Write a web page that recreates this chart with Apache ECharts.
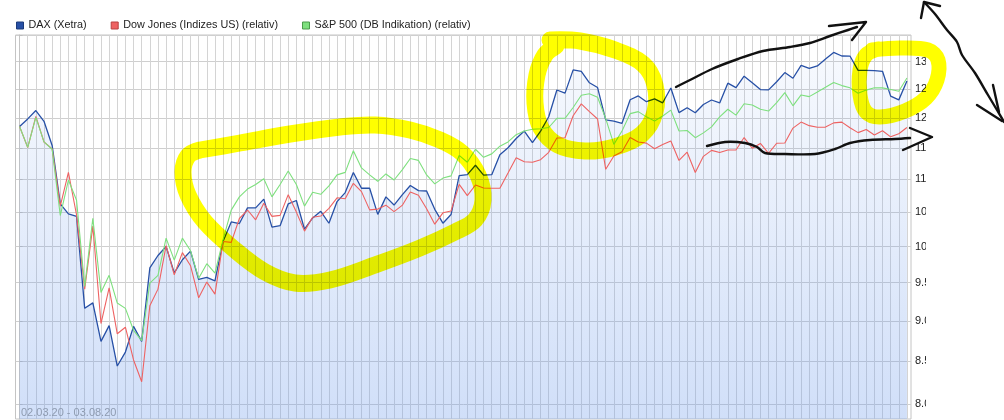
<!DOCTYPE html>
<html><head><meta charset="utf-8">
<script src="https://cdn.jsdelivr.net/npm/echarts@6/dist/echarts.min.js"></script>
<style>html,body{margin:0;padding:0;background:#fff}#c{width:1004px;height:420px}</style>
</head><body><div id="c"></div>
<script>
const dates = [
'02.03.20','03.03.20','04.03.20','05.03.20','06.03.20','09.03.20','10.03.20','11.03.20','12.03.20','13.03.20','16.03.20','17.03.20','18.03.20','19.03.20','20.03.20','23.03.20','24.03.20','25.03.20','26.03.20','27.03.20','30.03.20','31.03.20',
'01.04.20','02.04.20','03.04.20','06.04.20','07.04.20','08.04.20','09.04.20','13.04.20','14.04.20','15.04.20','16.04.20','17.04.20','20.04.20','21.04.20','22.04.20','23.04.20','24.04.20','27.04.20','28.04.20','29.04.20','30.04.20',
'01.05.20','04.05.20','05.05.20','06.05.20','07.05.20','08.05.20','11.05.20','12.05.20','13.05.20','14.05.20','15.05.20','18.05.20','19.05.20','20.05.20','21.05.20','22.05.20','25.05.20','26.05.20','27.05.20','28.05.20','29.05.20',
'01.06.20','02.06.20','03.06.20','04.06.20','05.06.20','08.06.20','09.06.20','10.06.20','11.06.20','12.06.20','15.06.20','16.06.20','17.06.20','18.06.20','19.06.20','22.06.20','23.06.20','24.06.20','25.06.20','26.06.20','29.06.20','30.06.20',
'01.07.20','02.07.20','03.07.20','06.07.20','07.07.20','08.07.20','09.07.20','10.07.20','13.07.20','14.07.20','15.07.20','16.07.20','17.07.20','20.07.20','21.07.20','22.07.20','23.07.20','24.07.20','27.07.20','28.07.20','29.07.20','30.07.20','31.07.20',
'03.08.20'];

const dax = [
11857,11985,12128,11944,11542,10625,10475,10439,9161,9232,8742,8939,8441,8610,8929,8742,9701,9874,10000,9633,9815,9936,
9544,9571,9525,10075,10356,10332,10564,10564,10696,10279,10301,10625,10675,10249,10415,10513,10336,10659,10796,11107,10862,
10862,10467,10730,10606,10760,10904,10825,10820,10542,10337,10465,11058,11075,11223,11066,11074,11391,11505,11657,11781,11587,
11780,12021,12487,12431,12848,12820,12615,12530,11970,11949,11911,12315,12382,12281,12331,12262,12523,12093,12177,12089,12233,12311,
12260,12608,12528,12733,12616,12494,12489,12633,12799,12697,12930,12874,12920,13046,13171,13104,13103,12838,12839,12836,12822,12379,12313,
12647];

const dow = [
11857,11508,12029,11599,11485,10591,11109,10458,9413,10295,8965,9430,8836,8919,8514,8255,9194,9414,10014,9608,9914,9732,
9299,9508,9348,10071,10059,10406,10532,10386,10634,10437,10452,10764,10501,10221,10424,10442,10557,10716,10702,10938,10810,
10534,10546,10605,10508,10601,10804,10755,10552,10323,10490,10517,10922,10749,10913,10867,10863,10863,11099,11344,11279,11271,
11312,11430,11665,11670,12038,12243,12110,11984,11158,11370,11440,11674,11598,11580,11488,11556,11614,11299,11432,11108,11365,11462,
11427,11468,11468,11672,11496,11575,11414,11578,11583,11830,11931,11871,11843,11847,11918,11931,11835,11754,11805,11714,11785,11684,11735,
11840];

const spx = [
11857,11510,12010,11600,11480,10450,10990,10680,9450,10410,9370,9600,9230,9160,8880,8750,9495,9600,10120,9810,10120,9940,
9560,9760,9630,10100,10530,10730,10850,10920,11010,10730,10920,11130,10920,10590,10800,10770,10900,11070,11110,11455,11180,
11070,10970,11085,10990,11150,11330,11300,11070,10930,11020,11055,11380,11270,11480,11350,11405,11530,11600,11720,11780,11810,
11820,11840,11995,11995,12180,12395,12420,12360,11990,11560,11780,12075,12110,12020,11950,12035,12135,11780,11790,11670,11750,11850,
12020,12150,12050,12245,12225,12150,12120,12265,12440,12210,12400,12370,12450,12535,12620,12565,12525,12430,12485,12525,12525,12495,12465,
12700];

const seriesNames = ['DAX (Xetra)', 'Dow Jones (Indizes US) (relativ)', 'S&P 500 (DB Indikation) (relativ)'];
const yTicks = [8000, 8500, 9000, 9500, 10000, 10500, 11000, 11500, 12000, 12500, 13000];
const yTickLabels = ['8.000', '8.500', '9.000', '9.500', '10.000', '10.500', '11.000', '11.500', '12.000', '12.500', '13.000'];
const yMin = 7830, yMax = 13500;
const periodText = '02.03.20 - 03.08.20';

const FONT = '"Liberation Sans", Arial, sans-serif';
const colors = ['#2750a6', '#ee6262', '#7ee07e'];
const lnTicks = yTicks.map(Math.log);
const dayIndex = dates.map((d, i) => i);

const chart = echarts.init(document.getElementById('c'), null, {renderer: 'canvas'});

function ypoly(points, w) {
  return {type: 'polyline', z: 60, silent: true,
    shape: {points: points, smooth: 0.35},
    style: {stroke: '#ffff00', lineWidth: w, fill: null, lineCap: 'round', lineJoin: 'round', blend: 'multiply'}};
}
function bpoly(points, smooth) {
  return {type: 'polyline', z: 70, silent: true,
    shape: {points: points, smooth: smooth || 0},
    style: {stroke: '#111', lineWidth: 2.4, fill: null, lineCap: 'round', lineJoin: 'round'}};
}

chart.setOption({
  backgroundColor: '#fff',
  animation: false,
  textStyle: {fontFamily: FONT},
  legend: {
    left: 16, top: 20, padding: 0, itemWidth: 7, itemHeight: 7, itemGap: 24,
    textStyle: {fontSize: 10.8, color: '#222', fontFamily: FONT},
    data: seriesNames.map((n, i) => ({name: n, icon: 'rect',
      itemStyle: {color: colors[i], borderColor: ['#1c3a7a', '#b84040', '#4a9a4a'][i], borderWidth: 1}}))
  },
  grid: {left: 15.5, right: 93, top: 35, bottom: 1, show: true, borderColor: '#c4c4c4', borderWidth: 1, backgroundColor: 'transparent', outerBoundsMode: 'none'},
  xAxis: [{
    type: 'category', data: dates, boundaryGap: true,
    axisLine: {show: false}, axisTick: {show: false}, axisLabel: {show: false}, splitLine: {show: false}
  }, {
    type: 'value', min: -0.5, max: dates.length - 0.5, position: 'bottom',
    axisLine: {show: false}, axisLabel: {show: false},
    axisTick: {show: false, customValues: dayIndex},
    splitLine: {show: true, lineStyle: {color: '#d4d4d4', width: 1}}
  }],
  yAxis: {
    type: 'value', position: 'right', min: Math.log(yMin), max: Math.log(yMax),
    axisLine: {show: true, lineStyle: {color: '#c4c4c4'}},
    axisTick: {show: true, length: 3, customValues: lnTicks.concat([Math.log(yMax)]), lineStyle: {color: '#bdbdbd'}},
    axisLabel: {
      customValues: lnTicks, margin: 4, fontSize: 11, color: '#222', fontFamily: FONT,
      formatter: function (v) {
        let best = 0;
        for (let i = 0; i < lnTicks.length; i++) if (Math.abs(lnTicks[i] - v) < Math.abs(lnTicks[best] - v)) best = i;
        return yTickLabels[best];
      }
    },
    splitLine: {show: true, lineStyle: {color: '#cfcfcf', width: 1}}
  },
  series: [
    {name: seriesNames[0], type: 'line', data: dax.map(Math.log), symbol: 'none', z: 3,
      lineStyle: {color: colors[0], width: 1.3}, itemStyle: {color: colors[0]},
      areaStyle: {color: new echarts.graphic.LinearGradient(0, 35, 0, 419, [
        {offset: 0, color: 'rgba(110,155,235,0.06)'},
        {offset: 1, color: 'rgba(110,155,235,0.46)'}], true)}},
    {name: seriesNames[1], type: 'line', data: dow.map(Math.log), symbol: 'none', z: 4,
      lineStyle: {color: colors[1], width: 1.1}, itemStyle: {color: colors[1]}},
    {name: seriesNames[2], type: 'line', data: spx.map(Math.log), symbol: 'none', z: 5,
      lineStyle: {color: colors[2], width: 1.1}, itemStyle: {color: colors[2]}}
  ],
  graphic: {elements: [
    {type: 'rect', z: 50, silent: true, shape: {x: 926, y: 0, width: 78, height: 420}, style: {fill: '#fff'}},
    {type: 'text', z: 55, silent: true, x: 21, y: 413,
      style: {text: periodText, fill: '#8e9bb0', font: '11px ' + FONT, textVerticalAlign: 'middle'}},
    ypoly([[200,150],[240,143],[290,134],[340,127],[375,125],[410,130],[440,140],[462,153],[478,175],[483,200],[475,220],[455,232],[420,248],[375,265],[330,280],[295,283],[265,272],[235,250],[205,222],[188,195],[183,172],[188,156],[200,150]], 17),
    ypoly([[550,40],[580,41],[615,50],[643,64],[655,85],[655,112],[642,134],[615,147],[585,151],[558,145],[541,128],[535,103],[537,75],[545,55],[556,46]], 17),
    ypoly([[872,50],[900,48],[928,50],[938,60],[937,80],[926,98],[905,111],[880,117],[866,112],[860,95],[860,70],[866,55],[878,49]], 15),
    bpoly([[676,87],[690,80],[712,69],[738,59],[763,51],[790,47],[810,43],[830,36],[848,30],[857,27]], 0.3),
    bpoly([[829,26],[866,22],[852,40]]),
    bpoly([[707,146],[725,142],[745,143],[757,147],[765,153],[785,154],[815,154],[835,149],[850,143],[870,140],[895,139],[910,138]], 0.3),
    bpoly([[910,128],[932,137],[903,150]]),
    bpoly([[924,2],[935,14],[947,30],[957,42],[962,55],[975,73],[988,95],[997,110],[1004,122]], 0.3),
    bpoly([[993,85],[999,112]]),
    bpoly([[977,105],[1002,121]]),
    bpoly([[921,18],[924,2],[940,6]])
  ]}
});
</script></body></html>
